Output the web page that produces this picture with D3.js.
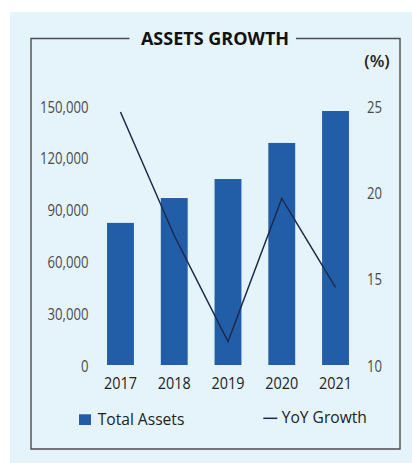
<!DOCTYPE html>
<html>
<head>
<meta charset="utf-8">
<script src="https://cdn.jsdelivr.net/npm/d3@7"></script>
<style>
  html, body { margin: 0; padding: 0; background: #ffffff; }
  svg { display: block; }
  text { font-family: "Open Sans", "Noto Sans", sans-serif; }
</style>
</head>
<body>
<svg id="chart" width="412" height="463"></svg>
<script>
// Annual figures
const years = ["2017", "2018", "2019", "2020", "2021"];
const totalAssets = [82300, 96700, 107700, 128600, 147100];
const yoyGrowth = [24.65, 17.5, 11.35, 19.65, 14.5];
const leftTicks = [0, 30000, 60000, 90000, 120000, 150000];
const rightTicks = [10, 15, 20, 25];

const svg = d3.select("#chart");

// Light blue panel and framed box
svg.append("rect").attr("x", 10).attr("y", 12).attr("width", 402).attr("height", 451)
  .attr("fill", "#e5f3fb");

const frame = { left: 31, top: 38.5, right: 400, bottom: 449 };
const titleGap = [129.5, 296];
svg.append("path")
  .attr("d", `M${titleGap[0]},${frame.top} H${frame.left} V${frame.bottom} H${frame.right} V${frame.top} H${titleGap[1]}`)
  .attr("fill", "none").attr("stroke", "#4d4d4d").attr("stroke-width", 1.4);

svg.append("text").attr("x", 215).attr("y", 45.3)
  .attr("text-anchor", "middle").attr("font-size", 18).attr("font-weight", 700)
  .attr("fill", "#111").text("ASSETS GROWTH");

svg.append("text").attr("x", 377).attr("y", 67.3)
  .attr("text-anchor", "middle").attr("font-size", 17).attr("font-weight", 600)
  .attr("fill", "#222").text("(%)");

// Scales
const x = d3.scaleBand().domain(years).range([93.6, 362.4]).paddingInner(0.5).paddingOuter(0.25);
const yLeft = d3.scaleLinear().domain([0, 150000]).range([365, 106]);
const yRight = d3.scaleLinear().domain([10, 25]).range([365, 106]);

// Axes (labels only)
const leftAxis = svg.append("g").attr("transform", "translate(88.5,0)")
  .call(d3.axisLeft(yLeft).tickValues(leftTicks).tickSize(0).tickPadding(0)
    .tickFormat(d3.format(",")));
const rightAxis = svg.append("g").attr("transform", "translate(367,0)")
  .call(d3.axisRight(yRight).tickValues(rightTicks).tickSize(0).tickPadding(0));
const bottomAxis = svg.append("g").attr("transform", "translate(0,389)")
  .call(d3.axisBottom(x).tickSize(0).tickPadding(0));

[leftAxis, rightAxis, bottomAxis].forEach(g => {
  g.select(".domain").remove();
  g.selectAll("text").attr("font-family", "'Open Sans', 'Noto Sans', sans-serif");
});
// Narrow numerals
leftAxis.selectAll("text").attr("font-size", 16).attr("fill", "#4a4a4a")
  .attr("dy", "0.38em").attr("transform", "scale(0.82,1)");
rightAxis.selectAll("text").attr("font-size", 16).attr("fill", "#4a4a4a")
  .attr("dy", "0.38em").attr("transform", "scale(0.82,1)");
bottomAxis.selectAll("text").attr("font-size", 16).attr("fill", "#222")
  .attr("dy", "0").attr("transform", "scale(0.9,1)");

// Bars
svg.append("g").selectAll("rect").data(years).join("rect")
  .attr("x", d => x(d))
  .attr("width", x.bandwidth())
  .attr("y", (d, i) => yLeft(totalAssets[i]))
  .attr("height", (d, i) => yLeft(0) - yLeft(totalAssets[i]))
  .attr("fill", "#225ea8");

// Growth line
const line = d3.line()
  .x((d, i) => x(years[i]) + x.bandwidth() / 2)
  .y(d => yRight(d));
svg.append("path").datum(yoyGrowth)
  .attr("d", line)
  .attr("fill", "none").attr("stroke", "#1c2a4d").attr("stroke-width", 1.5);

// Legend
svg.append("rect").attr("x", 79).attr("y", 414.3).attr("width", 12).attr("height", 10.7).attr("fill", "#225ea8");
svg.append("text").attr("x", 97.7).attr("y", 425).attr("font-size", 15.6).attr("fill", "#222").text("Total Assets");
svg.append("line").attr("x1", 263.3).attr("x2", 277.3).attr("y1", 418.3).attr("y2", 418.3)
  .attr("stroke", "#1c2a4d").attr("stroke-width", 1.5);
svg.append("text").attr("x", 281.7).attr("y", 423.3).attr("font-size", 15.6).attr("fill", "#222").text("YoY Growth");
</script>
</body>
</html>
